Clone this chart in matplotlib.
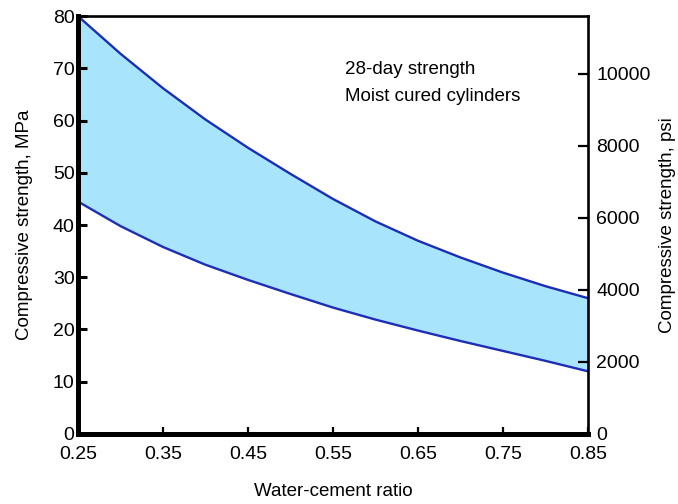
import matplotlib
matplotlib.use("Agg")
import matplotlib.pyplot as plt
import numpy as np

plt.rcParams['font.family'] = ['Liberation Sans', 'DejaVu Sans']

# Water-cement ratio vs 28-day compressive strength band (MPa)
wc_ratio = [0.25, 0.30, 0.35, 0.40, 0.45, 0.50, 0.55, 0.60, 0.65, 0.70, 0.75, 0.80, 0.85]
upper_mpa = [80.0, 72.8, 66.2, 60.2, 54.8, 49.8, 45.0, 40.7, 37.0, 33.8, 30.9, 28.3, 26.0]
lower_mpa = [44.5, 39.8, 35.8, 32.4, 29.5, 26.8, 24.2, 21.9, 19.8, 17.8, 15.9, 14.0, 12.0]

x_ticks = [0.25, 0.35, 0.45, 0.55, 0.65, 0.75, 0.85]
mpa_ticks = [0, 10, 20, 30, 40, 50, 60, 70, 80]
psi_ticks = [0, 2000, 4000, 6000, 8000, 10000]
PSI_PER_MPA = 145.038

fill_color = '#A8E5FC'
line_color = '#1C2DB8'
fs = 14

fig = plt.figure(figsize=(6.78, 5.04), dpi=100)
ax = fig.add_axes([0.115, 0.139, 0.752, 0.829])

ax.fill_between(wc_ratio, lower_mpa, upper_mpa, color=fill_color, lw=0, zorder=1)
ax.plot(wc_ratio, upper_mpa, color=line_color, lw=1.7, zorder=2, solid_joinstyle='round')
ax.plot(wc_ratio, lower_mpa, color=line_color, lw=1.7, zorder=2, solid_joinstyle='round')

ax.set_xlim(0.25, 0.85)
ax.set_ylim(0, 80)
ax.set_xticks(x_ticks)
ax.set_xticklabels([f"{v:.2f}" for v in x_ticks])
ax.set_yticks(mpa_ticks)

for side in ['left', 'bottom']:
    ax.spines[side].set_linewidth(3.6)
for side in ['top', 'right']:
    ax.spines[side].set_linewidth(1.9)

ax.tick_params(axis='y', direction='in', length=6.5, width=2.2, pad=2.5, labelsize=fs)
ax.tick_params(axis='x', direction='in', length=5, width=1.6, pad=9, labelsize=fs)

ax.set_xlabel('Water-cement ratio', fontsize=13.5, labelpad=14)
ax.set_ylabel('Compressive strength, MPa', fontsize=13.5, labelpad=14)

ax2 = ax.twinx()
ax2.set_ylim(0, 80 * PSI_PER_MPA)
ax2.set_yticks(psi_ticks)
ax2.tick_params(axis='y', direction='in', length=7, width=1.6, pad=6, labelsize=fs)
for s in ax2.spines.values():
    s.set_visible(False)
ax2.set_ylabel('Compressive strength, psi', fontsize=13.5, labelpad=6)

ax.text(0.524, 0.893, '28-day strength\nMoist cured cylinders', transform=ax.transAxes,
        fontsize=13.5, va='top', ha='left', linespacing=1.8)

fig.savefig('out.png', dpi=100)
